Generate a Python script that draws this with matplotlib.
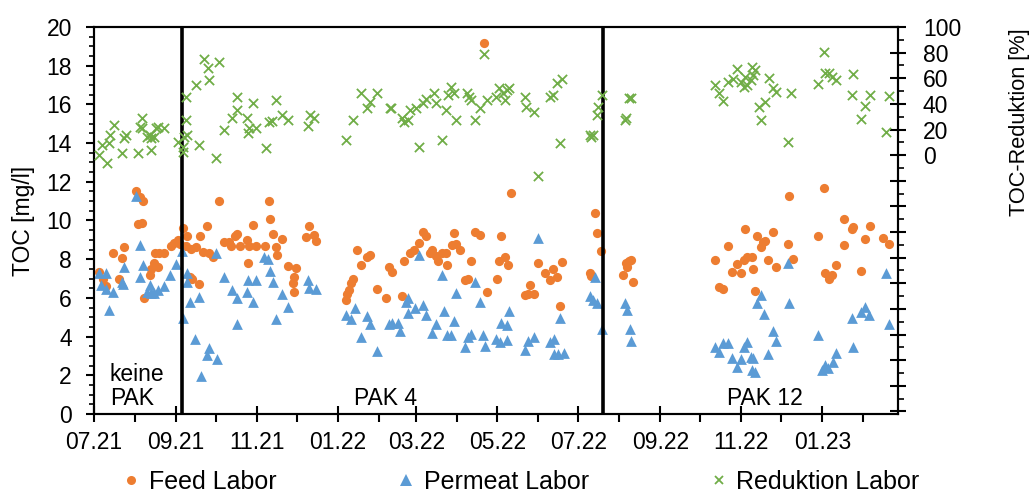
import numpy as np
import matplotlib
matplotlib.use("Agg")
import matplotlib.pyplot as plt
import matplotlib.dates as mdates
from matplotlib.ticker import MultipleLocator, FixedLocator, FuncFormatter
from matplotlib.lines import Line2D

plt.rcParams['font.family'] = ['Liberation Sans', 'DejaVu Sans']

# === Daten (Tage seit 01.07.2021) ===
start = np.datetime64('2021-07-01')

feed_days = [4, 7, 9, 14, 19, 21, 23, 32, 33, 35, 36, 37, 38, 42, 43, 45, 46, 48, 49, 53, 58, 60, 63, 65,
             67, 69, 70, 72, 73, 74, 77, 79, 80, 82, 85, 87, 90, 94, 98, 102, 103, 106, 108, 110,
             115, 116, 117, 120, 122, 129, 132, 133, 135, 137, 138, 142, 146, 150, 151, 151, 152, 160, 162, 166, 167,
             190, 191, 192, 194, 195, 198, 201, 206, 208, 213, 220, 222, 225, 232, 234, 238, 241, 245, 248, 250,
             253, 255, 258, 259, 262, 265, 266, 270, 273, 271, 276, 280, 282, 284, 287, 291, 294, 296, 304, 305,
             307, 310, 312, 314, 325, 327, 329, 332, 335, 340, 344, 346, 349, 351, 353, 374, 375, 378, 379, 382,
             399, 401, 402, 403, 405, 406, 468, 471, 474, 478, 481, 485, 488, 490, 491, 492, 496, 497, 498, 500,
             503, 504, 506, 508, 512, 514, 523, 524, 527, 546, 550, 551, 554, 556, 559, 565, 565, 571, 572, 578,
             581, 585, 595, 599]
feed_toc = [7.35, 7.0, 6.6, 8.3, 7.0, 8.05, 8.65, 11.5, 9.8, 11.2, 9.85, 11.0, 6.0, 7.2, 7.5, 7.8, 8.3, 7.6, 8.3, 8.3, 8.7, 8.85, 9.0, 8.8,
            9.6, 8.7, 9.2, 7.1, 8.55, 7.0, 8.65, 6.7, 9.2, 8.35, 9.7, 8.3, 8.13, 11.0, 8.9, 8.9, 8.7, 9.2, 9.3, 8.7,
            9.0, 7.8, 8.7, 9.77, 8.7, 8.7, 11.0, 10.06, 9.3, 8.65, 8.2, 9.04, 7.65, 6.75, 7.1, 6.3, 7.53, 9.15, 9.7, 9.25, 8.95,
            5.9, 6.2, 6.4, 6.75, 7.0, 8.5, 7.7, 8.1, 8.2, 6.45, 5.98, 7.6, 7.35, 6.1, 7.93, 8.3, 8.45, 8.85, 9.42, 9.22,
            8.3, 8.47, 8.16, 7.9, 8.3, 8.32, 7.7, 8.72, 8.79, 9.37, 8.5, 6.9, 6.96, 7.92, 9.42, 9.25, 19.15, 6.3, 7.0, 7.9,
            9.2, 8.1, 7.7, 11.4, 6.15, 6.2, 6.67, 6.2, 7.8, 7.3, 6.9, 7.48, 7.1, 5.6, 7.87, 7.27, 7.13, 10.37, 9.37, 8.4,
            7.18, 7.8, 7.6, 7.9, 7.96, 6.84, 7.96, 6.58, 6.44, 8.7, 7.35, 7.75, 7.3, 7.96, 9.54, 8.1, 8.1, 7.48, 6.37, 9.2,
            8.65, 8.9, 8.96, 7.96, 9.42, 7.6, 8.78, 11.27, 8.0, 9.2, 11.66, 7.3, 7.0, 7.18, 7.7, 8.73, 10.06, 9.54, 9.68, 7.4,
            9.03, 9.7, 9.08, 8.78]

perm_days = [4, 5, 9, 9, 11, 14, 21, 22, 23, 32, 35, 35, 37, 40, 42, 43, 45, 48, 53, 57, 62, 66,
             67, 70, 70, 72, 76, 79, 81, 85, 87, 92, 93, 98, 104, 108, 108, 115, 116, 120, 122, 128,
             131, 133, 135, 137, 142, 146, 161, 162, 167,
             190, 194, 197, 201, 206, 208, 213, 222, 225, 229, 231, 235, 237, 237, 242, 245, 248, 250, 255, 258,
             262, 264, 266, 269, 271, 273, 280, 282, 284, 287, 291, 293, 295, 303, 306, 307, 311, 311, 313, 325,
             327, 332, 335, 344, 347, 347, 350, 351, 354, 374, 376, 378, 379, 383,
             400, 402, 404, 405, 468, 471, 474, 478, 481, 485, 488, 490, 492, 495, 496, 497, 498, 500, 503, 505,
             508, 512, 514, 523, 524, 546, 549, 551, 553, 557, 559, 571, 572, 578, 581, 584, 597, 599]
perm_toc = [7.3, 6.65, 7.3, 6.45, 5.4, 6.3, 6.8, 6.7, 7.6, 11.25, 8.75, 7.1, 7.7, 6.3, 6.65, 6.25, 6.25, 6.4, 6.6, 7.2, 7.75, 8.4,
            4.95, 7.3, 6.84, 5.8, 3.86, 6.06, 1.96, 3.05, 3.4, 8.3, 2.83, 7.1, 6.4, 6.0, 4.65, 6.3, 6.9, 5.8, 6.9, 8.13,
            8.0, 7.4, 6.8, 4.9, 6.2, 5.55, 6.9, 6.5, 6.45,
            5.1, 4.9, 5.5, 3.96, 5.06, 4.65, 3.27, 4.65, 4.68, 4.72, 4.3, 5.8, 5.2, 5.97, 5.46, 8.2, 5.63, 5.1, 4.17, 4.65,
            7.18, 5.34, 4.08, 4.08, 4.82, 6.24, 3.45, 3.96, 4.13, 6.84, 5.8, 4.08, 3.51, 3.86, 3.74, 4.68, 4.6, 3.82, 5.3, 3.3,
            3.79, 4.0, 9.08, 3.74, 3.86, 3.1, 3.1, 4.95, 3.15, 6.1, 5.9, 7.06, 5.75, 4.38,
            5.75, 5.37, 4.38, 3.79, 3.48, 3.22, 3.69, 3.69, 2.88, 2.45, 2.83, 3.48, 3.74, 2.96, 2.27, 2.88, 2.19, 5.72, 6.15, 5.17,
            3.08, 4.3, 3.79, 7.82, 5.72, 4.08, 2.27, 2.53, 2.36, 2.7, 3.17, 4.95, 3.48, 5.29, 5.51, 5.12, 7.27, 4.65]

red_days = [4, 6, 10, 11, 12, 15, 21, 23, 24, 33, 35, 36, 36, 40, 42, 43, 45, 43, 47, 48, 53, 63,
            67, 67, 68, 70, 69, 69, 77, 79, 83, 86, 87, 92, 94, 98, 104, 108, 108, 115, 116, 117,
            120, 122, 130, 132, 134, 137, 142, 146, 161, 163, 166,
            190, 195, 201, 206, 208, 213, 223, 224, 232, 234, 237, 238, 243, 245, 248, 250, 256, 258, 262, 265,
            267, 269, 271, 273, 281, 283, 284, 287, 291, 294, 296, 303, 305, 308, 310, 311, 313, 325, 326, 332,
            335, 344, 346, 349, 351, 353, 374, 375, 376, 379, 380, 383,
            400, 401, 403, 405, 468, 471, 474, 478, 482, 485, 488, 490, 491, 492, 495, 496, 497, 498, 501, 503,
            506, 509, 512, 514, 523, 525, 546, 550, 551, 554, 556, 559, 571, 572, 578, 581, 585, 597, 599]
red_pct = [0, 7.8, -6.5, 9.1, 15.6, 23.4, 1.3, 13, 15.6, 1.3, 22, 28.6, 20.8, 14, 15.6, 13, 14.3, 3.9, 20.8, 22, 20.8, 10.4,
           6.5, 2.6, 14.3, 15.6, 27.3, 45.6, 54.7, 7.8, 74.7, 67.7, 58.6, -2.6, 72.9, 19.5, 28.6, 45.6, 35.2, 28.6, 17, 20.8,
           40.4, 20.8, 5.2, 26, 26.8, 43, 31.3, 27.3, 22.7, 31.3, 28.6,
           12.2, 27.3, 48.2, 36.5, 41.7, 48.2, 37.1, 37.1, 28.6, 26, 27.3, 35.2, 36.5, 6.5, 40.4, 43.5, 48.7, 40.4, 12.2, 35.2,
           46.9, 52.9, 48.2, 27.3, 48.7, 45.6, 43, 27.3, 36.5, 78.9, 43, 45.1, 52.1, 48.2, 43, 50.8, 52.1, 45.6, 37.7, 33.8,
           -16.4, 45.6, 46.9, 56, 9.6, 59.1, 16, 14, 16, 31.3, 37.3, 46.9,
           27.3, 29, 44.3, 44.3, 54.7, 48.7, 42.4, 57.3, 59.1, 66.9, 57.3, 53.4, 61.2, 55, 58.6, 68.5, 62.5, 66.4, 37.3, 27.3,
           41.7, 59.9, 52.1, 49.5, 10.4, 48.2, 55.5, 80.7, 63.8, 64.3, 61.2, 58.6, 46.9, 63.3, 27.9, 38.3, 46.9, 18.2, 46.1]

phase_change = ['2021-09-05', '2022-07-20']
phase_labels = ['keine\nPAK', 'PAK 4', 'PAK 12']
phase_label_dates = ['2021-07-13', '2022-01-13', '2022-10-21']

c_feed = '#ED7D31'
c_perm = '#5B9BD5'
c_red = '#70AD47'
fs = 16.5
fs_leg = 18


def to_dates(days):
    return start + np.array(days).astype('timedelta64[D]')


fig = plt.figure(figsize=(10.35, 4.96), dpi=100)
ax = fig.add_axes([0.0908, 0.1653, 0.7768, 0.7803])

ax.scatter(to_dates(feed_days), feed_toc, s=44, marker='o', color=c_feed, linewidths=0, zorder=3)
ax.scatter(to_dates(perm_days), perm_toc, s=60, marker='^', color=c_perm, linewidths=0, zorder=4)

for d in phase_change:
    ax.axvline(np.datetime64(d), color='black', lw=2.6, zorder=5)

for lbl, d in zip(phase_labels, phase_label_dates):
    ax.text(np.datetime64(d), 0.45, lbl, fontsize=fs, ha='left', va='baseline', linespacing=1.1)

ax.set_xlim(np.datetime64('2021-07-01'), np.datetime64('2023-02-27'))
ax.set_ylim(0, 20)
ax.xaxis.set_major_locator(mdates.MonthLocator(bymonth=[1, 3, 5, 7, 9, 11]))
ax.xaxis.set_minor_locator(mdates.MonthLocator())
ax.xaxis.set_major_formatter(mdates.DateFormatter('%m.%y'))
ax.yaxis.set_major_locator(MultipleLocator(2))
ax.yaxis.set_minor_locator(MultipleLocator(0.5))

ax.tick_params(axis='x', which='major', direction='inout', length=12, width=1.5, pad=6, labelsize=fs)
ax.tick_params(axis='x', which='minor', direction='out', length=6, width=1.5)
ax.tick_params(axis='y', which='major', direction='out', length=6, width=1.5, pad=10, labelsize=fs)
ax.tick_params(axis='y', which='minor', direction='out', length=3.5, width=1.2)
for sp in ax.spines.values():
    sp.set_linewidth(1.5)
ax.set_ylabel('TOC [mg/l]', fontsize=fs, labelpad=8)

# Sekundärachse
ax2 = ax.twinx()
ax2.scatter(to_dates(red_days), red_pct, s=44, marker='x', color=c_red, linewidths=1.3, zorder=3)
ax2.set_ylim(-202, 100)
ax2.yaxis.set_major_locator(FixedLocator(np.arange(-200, 101, 20)))
ax2.yaxis.set_minor_locator(FixedLocator(np.arange(-190, 100, 20)))
ax2.yaxis.set_major_formatter(FuncFormatter(lambda v, p: f'{v:.0f}' if v >= 0 else ''))
ax2.tick_params(axis='y', which='major', direction='inout', length=12, width=1.5, pad=12, labelsize=fs)
ax2.tick_params(axis='y', which='minor', direction='out', length=4, width=1.2)
for sp in ax2.spines.values():
    sp.set_linewidth(1.5)
ax2.set_ylabel('TOC-Reduktion [%]', fontsize=15.7, rotation=90)
ax2.yaxis.set_label_coords(1.138, 0.753)

handles = [
    Line2D([], [], ls='none', marker='o', color=c_feed, markersize=6.5, markeredgewidth=0),
    Line2D([], [], ls='none', marker='^', color=c_perm, markersize=8, markeredgewidth=0),
    Line2D([], [], ls='none', marker='x', color=c_red, markersize=6, markeredgewidth=1.3),
]
fig.legend(handles, ['Feed Labor', 'Permeat Labor', 'Reduktion Labor'], ncol=3,
           loc='center', bbox_to_anchor=(0.504, 0.028), frameon=False, fontsize=fs_leg,
           handlelength=0.6, handletextpad=0.4, columnspacing=4.9)

fig.savefig('out.png', dpi=100)
